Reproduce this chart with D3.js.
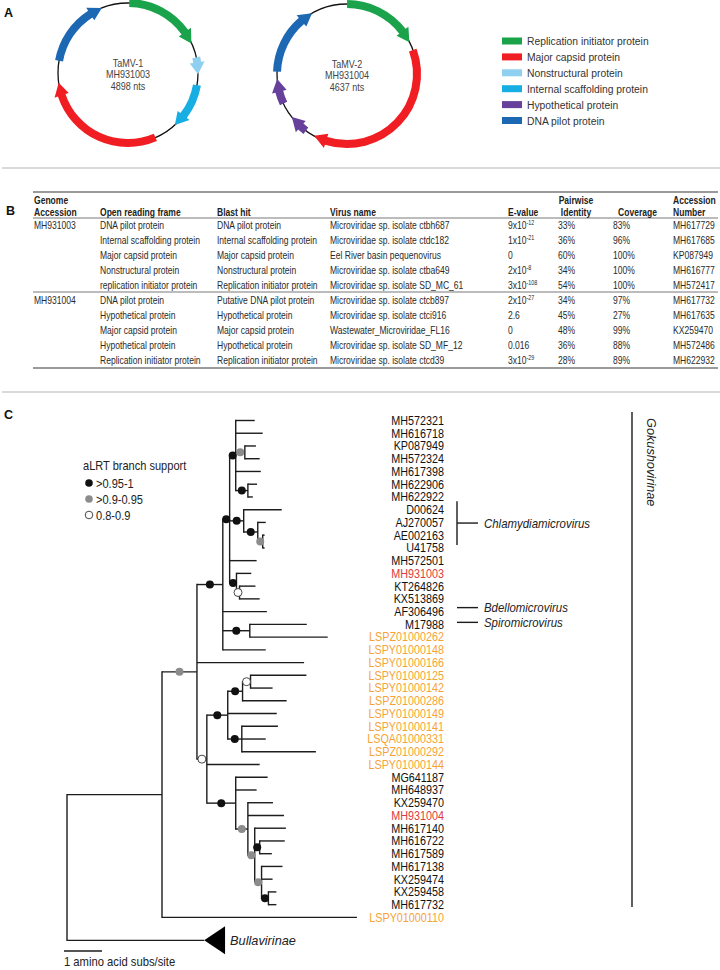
<!DOCTYPE html>
<html><head><meta charset="utf-8">
<script src="https://cdn.jsdelivr.net/npm/d3@7"></script>
<style>
body{margin:0;background:#fff}
svg{display:block}
text{font-family:'Liberation Sans',Arial,Helvetica,sans-serif}
</style>
</head><body>
<svg id="fig" width="720" height="970"></svg>
<script>
// ---------------- DATA ----------------
// Panel A: genome maps
const proteinTypes = ["Replication initiator protein","Major capsid protein","Nonstructural protein","Internal scaffolding protein","Hypothetical protein","DNA pilot protein"];
const proteinColors = ["#1ba34b","#f01e23","#8fd0f1","#17aee4","#66409a","#1c68b2"];
const genomeNames = ["TaMV-1","TaMV-2"];
const genomeAccessions = ["MH931003","MH931004"];
const genomeLengths = [4898, 4637];
// ORFs (nt coordinates estimated from the maps)
const orfGenome = [0,0,0,0,0, 1,1,1,1,1];
const orfType   = [0,2,3,1,5, 0,1,4,4,5];
const orfStart  = [14,1048,1360,2136,3810, 1,902,2782,3156,3503];
const orfEnd    = [884,1238,1878,3565,4599, 812,2679,2988,3426,4251];

// Panel B: table
const tableGenome   = ["MH931003","","","","","MH931004","","","",""];
const tableORF      = ["DNA pilot protein","Internal scaffolding protein","Major capsid protein","Nonstructural protein","replication initiator protein","DNA pilot protein","Hypothetical protein","Major capsid protein","Hypothetical protein","Replication initiator protein"];
const tableBlastHit = ["DNA pilot protein","Internal scaffolding protein","Major capsid protein","Nonstructural protein","Replication initiator protein","Putative DNA pilot protein","Hypothetical protein","Major capsid protein","Hypothetical protein","Replication initiator protein"];
const tableVirus    = ["Microviridae sp. isolate ctbh687","Microviridae sp. isolate ctdc182","Eel River basin pequenovirus","Microviridae sp. isolate ctba649","Microviridae sp. isolate SD_MC_61","Microviridae sp. isolate ctcb897","Microviridae sp. isolate ctci916","Wastewater_Microviridae_FL16","Microviridae sp. isolate SD_MF_12","Microviridae sp. isolate ctcd39"];
const tableEvalue   = ["9x10^-12","1x10^-21","0","2x10^-8","3x10^-108","2x10^-27","2.6","0","0.016","3x10^-29"];
const tableIdentity = ["33%","36%","60%","34%","54%","34%","45%","48%","36%","28%"];
const tableCoverage = ["83%","96%","100%","100%","100%","97%","27%","99%","88%","89%"];
const tableAccession= ["MH617729","MH617685","KP087949","MH616777","MH572417","MH617732","MH617635","KX259470","MH572486","MH622932"];

// Panel C: phylogeny
const tipLabels = ["MH572321","MH616718","KP087949","MH572324","MH617398","MH622906","MH622922","D00624","AJ270057","AE002163","U41758","MH572501","MH931003","KT264826","KX513869","AF306496","M17988","LSPZ01000262","LSPY01000148","LSPY01000166","LSPY01000125","LSPY01000142","LSPZ01000286","LSPY01000149","LSPY01000141","LSQA01000331","LSPZ01000292","LSPY01000144","MG641187","MH648937","KX259470","MH931004","MH617140","MH616722","MH617589","MH617138","KX259474","KX259458","MH617732","LSPY01000110"];
const newGenomes = ["MH931003","MH931004"];
// [node, parent, branch length (aa subs/site), aLRT support class: 0 none, 1 >0.95-1, 2 >0.9-0.95, 3 0.8-0.9]
const treeEdges = [
 ["root",null,0,0],
 ["G","root",2.50,0],
 ["N197","G",0.92,2],
 ["N223","N197",0.68,1],
 ["N230","N223",0.18,1],
 ["A","N230",0.16,1],
 ["MH572321","A",0.50,0],
 ["MH616718","A",0.71,0],
 ["N34","A",0.24,2],
 ["KP087949","N34",0.29,0],
 ["MH572324","N34",0.39,0],
 ["MH617398","A",0.66,0],
 ["N67","A",0.32,1],
 ["MH622906","N67",0.24,0],
 ["MH622922","N67",0.13,0],
 ["Chl","N230",0.37,1],
 ["D00624","Chl",1.00,0],
 ["N9","Chl",0.37,1],
 ["AJ270057","N9",0.21,0],
 ["N1011","N9",0.13,2],
 ["AE002163","N1011",0.05,0],
 ["U41758","N1011",0.05,0],
 ["MH572501","N230",0.71,0],
 ["N1315","N230",0.18,1],
 ["MH931003","N1315",0.39,0],
 ["N1415","N1315",0.08,3],
 ["KT264826","N1415",0.42,0],
 ["KX513869","N1415",0.53,0],
 ["AF306496","N223",1.16,0],
 ["N1718","N223",0.71,1],
 ["M17988","N1718",1.50,0],
 ["LSPZ01000262","N1718",2.05,0],
 ["LSPY01000148","N223",1.13,0],
 ["LSPY01000166","N197",2.82,0],
 ["N207","N197",0.26,3],
 ["N228","N207",0.55,1],
 ["N243","N228",0.39,1],
 ["N251","N243",0.21,3],
 ["LSPY01000125","N251",1.47,0],
 ["LSPY01000142","N251",0.58,0],
 ["LSPZ01000286","N243",1.16,0],
 ["LSPY01000149","N228",1.29,0],
 ["N242","N228",0.37,1],
 ["LSPY01000141","N242",0.95,0],
 ["LSQA01000331","N242",0.63,0],
 ["LSPZ01000292","N242",1.95,0],
 ["LSPY01000144","N207",1.39,0],
 ["N236","N207",0.76,1],
 ["MG641187","N236",0.84,0],
 ["MH648937","N236",0.55,0],
 ["N248","N236",0.32,2],
 ["KX259470","N248",0.66,0],
 ["MH931004","N248",0.95,0],
 ["N255","N248",0.18,2],
 ["MH617140","N255",0.82,0],
 ["N260","N255",0.13,1],
 ["MH616722","N260",0.66,0],
 ["MH617589","N260",0.32,0],
 ["N262","N255",0.18,2],
 ["MH617138","N262",0.55,0],
 ["KX259474","N262",0.29,0],
 ["N269","N262",0.18,1],
 ["KX259458","N269",0.21,0],
 ["MH617732","N269",0.21,0],
 ["LSPY01000110","G",5.13,0],
 ["Bullavirinae","root",3.61,0]
];
const collapsedClade = "Bullavirinae";
const collapsedDepth = 0.55;
const supportLabels = [">0.95-1",">0.9-0.95","0.8-0.9"];
const supportFill = ["#111","#8c8c8c","#fff"];
const cladeNames = ["Chlamydiamicrovirus","Bdellomicrovirus","Spiromicrovirus"];
const subfamilyName = "Gokushovirinae";

// ---------------- HELPERS ----------------
const svg = d3.select("#fig");
function txt(parent, x, y, s, o = {}) {
  const t = parent.append("text")
    .attr("transform", `translate(${x},${y}) ${o.rot ? `rotate(${o.rot})` : ""} scale(${o.sx ?? 0.83},1)`)
    .attr("font-size", o.size ?? 10)
    .attr("text-anchor", o.anchor ?? "start")
    .attr("fill", o.fill ?? "#222");
  if (o.weight) t.attr("font-weight", o.weight);
  if (o.style) t.attr("font-style", o.style);
  if (s !== null) t.text(s);
  return t;
}

// panel letters and separators
txt(svg, 4, 17, "A", {size: 12.5, weight: "bold", sx: 1, fill: "#111"});
txt(svg, 6, 215, "B", {size: 12.5, weight: "bold", sx: 1, fill: "#111"});
txt(svg, 4, 419, "C", {size: 12.5, weight: "bold", sx: 1, fill: "#111"});
[168, 392].forEach(y => svg.append("line").attr("x1", 2).attr("x2", 720).attr("y1", y).attr("y2", y)
  .attr("stroke", "#b5b5b5").attr("stroke-width", 1.2));

// ---------------- PANEL A ----------------
const gA = svg.append("g");
const mapCenters = [[128, 73], [347, 74]];
const mapR = 70, bandW = 8, headW = 15, headLen = 13;
function P(cx, cy, a, r) { return [cx + r * Math.sin(a), cy - r * Math.cos(a)]; }
function orfPath(cx, cy, a0, a1) {
  const hl = Math.min(headLen / mapR, (a1 - a0) * 0.7);
  const ah = a1 - hl;
  const ro = mapR + bandW / 2, ri = mapR - bandW / 2;
  const large = (ah - a0) > Math.PI ? 1 : 0;
  const q = P(cx, cy, ah, ro);
  let s = `M${P(cx,cy,a0,ro).join(",")} A${ro},${ro} 0 ${large} 1 ${q.join(",")}`;
  s += ` L${P(cx,cy,ah,mapR + headW/2).join(",")} L${P(cx,cy,a1,mapR).join(",")} L${P(cx,cy,ah,mapR - headW/2).join(",")}`;
  s += ` L${P(cx,cy,ah,ri).join(",")} A${ri},${ri} 0 ${large} 0 ${P(cx,cy,a0,ri).join(",")} Z`;
  return s;
}
genomeNames.forEach((name, gi) => {
  const [cx, cy] = mapCenters[gi];
  const ang = d3.scaleLinear().domain([0, genomeLengths[gi]]).range([0, 2 * Math.PI]);
  gA.append("circle").attr("cx", cx).attr("cy", cy).attr("r", mapR)
    .attr("fill", "none").attr("stroke", "#111").attr("stroke-width", 1.3);
  orfGenome.forEach((g, i) => {
    if (g !== gi) return;
    gA.append("path").attr("d", orfPath(cx, cy, ang(orfStart[i]), ang(orfEnd[i])))
      .attr("fill", proteinColors[orfType[i]]);
  });
  const lines = [name, genomeAccessions[gi], `${genomeLengths[gi]} nts`];
  lines.forEach((l, k) => txt(gA, cx, cy - 6.5 + k * 11.5, l, {size: 10.5, anchor: "middle", fill: "#444", sx: 0.86}));
});
// legend
const legY = d3.scaleLinear().domain([0, proteinTypes.length - 1]).range([41, 120.5]);
proteinTypes.forEach((p, i) => {
  gA.append("rect").attr("x", 502).attr("y", legY(i) - 3.5).attr("width", 20).attr("height", 7).attr("fill", proteinColors[i]);
  txt(gA, 527, legY(i) + 4, p, {size: 11, fill: "#333", sx: 0.94});
});

// ---------------- PANEL B ----------------
const gB = svg.append("g");
const colX = [34, 100, 217, 330, 508, 558, 613, 673];
const ruleCol = "#7a7a7a";
function rule(y, w) { gB.append("line").attr("x1", 33).attr("x2", 718).attr("y1", y).attr("y2", y).attr("stroke", ruleCol).attr("stroke-width", w); }
rule(192, 1.6); rule(218, 1.2); rule(292, 1.2); rule(368, 1.6);
const hdr = {size: 10.3, weight: "bold", fill: "#222", sx: 0.83};
txt(gB, 34, 203.5, "Genome", hdr);
txt(gB, 34, 215.5, "Accession", hdr);
txt(gB, 100, 215.5, "Open reading frame", hdr);
txt(gB, 217, 215.5, "Blast hit", hdr);
txt(gB, 330, 215.5, "Virus name", hdr);
txt(gB, 508, 215.5, "E-value", hdr);
txt(gB, 576, 203.5, "Pairwise", {...hdr, anchor: "middle"});
txt(gB, 576, 215.5, "Identity", {...hdr, anchor: "middle"});
txt(gB, 618, 215.5, "Coverage", hdr);
txt(gB, 673, 203.5, "Accession", hdr);
txt(gB, 673, 215.5, "Number", hdr);
const cell = {size: 10.3, fill: "#2a2a2a", sx: 0.83};
tableORF.forEach((_, i) => {
  const y = (i < 5 ? 225 + i * 15 : 300 + (i - 5) * 15) + 3.6;
  txt(gB, colX[0], y, tableGenome[i], cell);
  txt(gB, colX[1], y, tableORF[i], cell);
  txt(gB, colX[2], y, tableBlastHit[i], cell);
  txt(gB, colX[3], y, tableVirus[i], cell);
  const ev = tableEvalue[i].split("^");
  const t = txt(gB, colX[4], y, null, cell);
  t.append("tspan").text(ev[0]);
  if (ev[1]) t.append("tspan").attr("font-size", 6.5).attr("dy", -4).text(ev[1]);
  txt(gB, colX[5], y, tableIdentity[i], cell);
  txt(gB, colX[6], y, tableCoverage[i], cell);
  txt(gB, colX[7], y, tableAccession[i], cell);
});

// ---------------- PANEL C ----------------
const gC = svg.append("g");
const root = d3.stratify().id(d => d[0]).parentId(d => d[1])(treeEdges);
const xS = d3.scaleLinear().domain([0, 1]).range([67, 105]);
const yS = d3.scaleLinear().domain([0, tipLabels.length - 1]).range([420.5, 917.4]);
const collapsedRow = 40.8;
root.eachBefore(n => { n.dist = n.parent ? n.parent.dist + n.data[2] : 0; });
root.eachAfter(n => {
  if (!n.children) n.yy = n.id === collapsedClade ? yS(collapsedRow) : yS(tipLabels.indexOf(n.id));
  else n.yy = (n.children[0].yy + n.children[n.children.length - 1].yy) / 2;
});
const lineCol = "#1c1c1c", lw = 1.4;
root.descendants().forEach(n => {
  if (n.parent) {
    gC.append("line").attr("x1", xS(n.parent.dist)).attr("x2", xS(n.dist)).attr("y1", n.yy).attr("y2", n.yy)
      .attr("stroke", lineCol).attr("stroke-width", lw);
  }
  if (n.children) {
    gC.append("line").attr("x1", xS(n.dist)).attr("x2", xS(n.dist))
      .attr("y1", n.children[0].yy - lw / 2).attr("y2", n.children[n.children.length - 1].yy + lw / 2)
      .attr("stroke", lineCol).attr("stroke-width", lw);
  }
});
// collapsed clade triangle
const cl = root.find(n => n.id === collapsedClade);
gC.append("path").attr("d", `M${xS(cl.dist)},${cl.yy} L${xS(cl.dist + collapsedDepth)},${cl.yy - 14} L${xS(cl.dist + collapsedDepth)},${cl.yy + 14} Z`).attr("fill", "#000");
txt(gC, xS(cl.dist + collapsedDepth) + 5, cl.yy + 4.5, collapsedClade, {size: 13, style: "italic", sx: 0.98, fill: "#222"});
// support dots
root.descendants().forEach(n => {
  const s = n.data[3];
  if (!s || !n.parent) return;
  gC.append("circle").attr("cx", (xS(n.parent.dist) + xS(n.dist)) / 2).attr("cy", n.yy).attr("r", 4)
    .attr("fill", supportFill[s - 1]).attr("stroke", s === 3 ? "#333" : "none").attr("stroke-width", 0.9);
});
// tip labels
tipLabels.forEach((l, i) => {
  const col = newGenomes.includes(l) ? "#db3a41" : (l.startsWith("LS") ? "#f5a337" : "#111");
  txt(gC, 444, yS(i) + 4.4, l, {size: 12.4, anchor: "end", fill: col, sx: 0.87});
});
// support legend
txt(gC, 83, 470, "aLRT branch support", {size: 13, fill: "#222", sx: 0.85});
supportLabels.forEach((s, i) => {
  const y = 483 + i * 16;
  gC.append("circle").attr("cx", 89).attr("cy", y).attr("r", 3.8).attr("fill", supportFill[i])
    .attr("stroke", i === 2 ? "#333" : "none").attr("stroke-width", 0.9);
  txt(gC, 96, y + 4.5, s, {size: 13, fill: "#222", sx: 0.85});
});
// clade annotations
const ci = tipLabels.indexOf("D00624"), cj = tipLabels.indexOf("U41758");
const cy0 = yS(ci) - 8.5, cy1 = yS(cj) - 3, cym = (cy0 + cy1) / 2;
gC.append("line").attr("x1", 457).attr("x2", 457).attr("y1", cy0).attr("y2", cy1).attr("stroke", lineCol).attr("stroke-width", lw);
gC.append("line").attr("x1", 457).attr("x2", 478).attr("y1", cym).attr("y2", cym).attr("stroke", lineCol).attr("stroke-width", lw);
txt(gC, 484, cym + 4.5, cladeNames[0], {size: 13, style: "italic", sx: 0.88, fill: "#222"});
const bY = yS(tipLabels.indexOf("AF306496")) - 4, sY = yS(tipLabels.indexOf("M17988")) - 2;
[[bY, cladeNames[1]], [sY, cladeNames[2]]].forEach(([y, n]) => {
  gC.append("line").attr("x1", 457).attr("x2", 478).attr("y1", y).attr("y2", y).attr("stroke", lineCol).attr("stroke-width", lw);
  txt(gC, 484, y + 4.5, n, {size: 13, style: "italic", sx: 0.88, fill: "#222"});
});
gC.append("line").attr("x1", 632).attr("x2", 632).attr("y1", 412).attr("y2", 907).attr("stroke", lineCol).attr("stroke-width", lw);
txt(gC, 647, 418, subfamilyName, {size: 13, style: "italic", sx: 0.98, fill: "#222", rot: 90});
// scale bar
gC.append("line").attr("x1", 64).attr("x2", 64 + (xS(1) - xS(0))).attr("y1", 951).attr("y2", 951).attr("stroke", lineCol).attr("stroke-width", lw);
txt(gC, 64, 966, "1 amino acid subs/site", {size: 12.5, fill: "#222", sx: 0.9});
</script>
</body></html>
